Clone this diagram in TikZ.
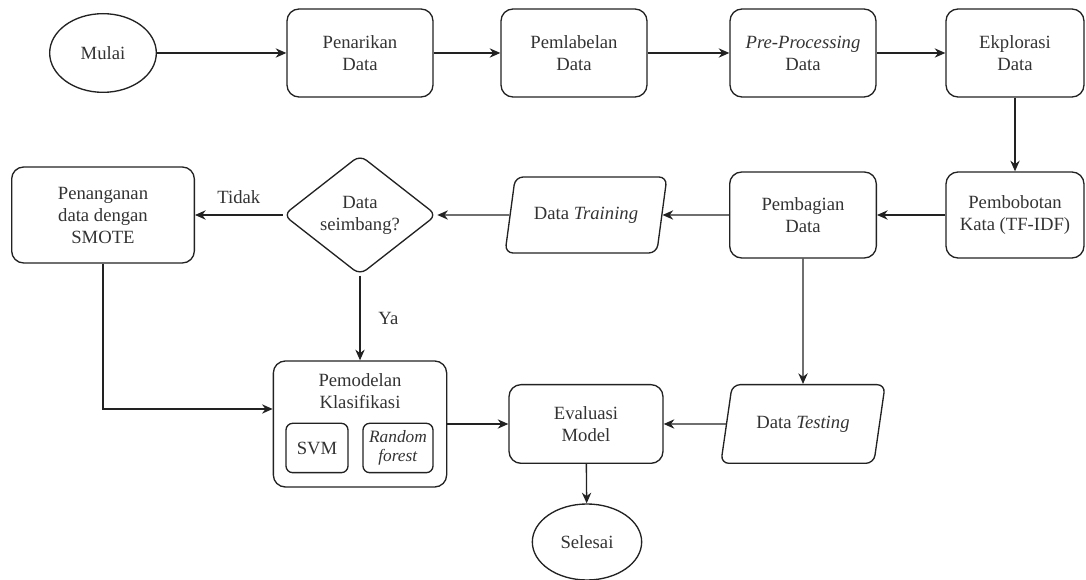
\documentclass[tikz,border=0pt]{standalone}
\usepackage{fontspec}
\setmainfont{Liberation Serif}
\usetikzlibrary{arrows.meta, positioning, shapes.geometric}
\definecolor{garis}{HTML}{222222}
\definecolor{tinta}{HTML}{333333}
\tikzset{
  teks/.style = {align=center, text=tinta,
    font=\fontsize{14}{16.5}\selectfont},
  basis/.style = {teks, inner sep=2pt, text centered, draw=garis,
    line width=1pt},% dasar semua kotak
  proses/.style = {basis, rectangle, rounded corners=9pt,
    minimum width=109.5pt, minimum height=66pt},
  terminal/.style = {basis, ellipse, minimum width=80pt,
    minimum height=59pt},% mulai / selesai
  keputusan/.style = {basis, diamond, rounded corners=6pt, inner sep=0pt,
    minimum width=115pt, minimum height=90pt},
  dataio/.style = {basis, trapezium, trapezium left angle=70,
    trapezium right angle=110, trapezium stretches=true,
    rounded corners=6pt, minimum width=122pt, minimum height=57pt},
  panah/.style = {-{Stealth[length=8pt, width=7pt]}, line width=1pt,
    draw=garis}
}
\begin{document}
\begin{tikzpicture}[x=0.75pt, y=-0.75pt]
\useasboundingbox (0,0) rectangle (1086,580);
% baris atas
\node (mulai) [terminal] at (103,53) {Mulai};
\node (tarik) [proses] at (360,53) {Penarikan\\Data};
\node (label) [proses] at (574,53) {Pemlabelan\\Data};
\node (prapro) [proses] at (803,53) {\textit{Pre-Processing}\\Data};
\node (eksplor) [proses, minimum width=103.5pt] at (1015,53) {Ekplorasi\\Data};
% baris tengah
\node (bobot) [proses, minimum width=103.5pt, minimum height=64.5pt] at (1015,215) {Pembobotan\\Kata (TF-IDF)};
\node (bagi) [proses, minimum width=110pt, minimum height=64.5pt] at (803,215) {Pembagian\\Data};
\node (latih) [dataio] at (586,215) {Data \textit{Training}};
\node (seimbang) [keputusan] at (360,215) {Data\\seimbang?};
\node (smote) [proses, minimum width=137pt, minimum height=72pt] at (103,215) {Penanganan\\data dengan\\SMOTE};
% baris bawah
\node (model) [proses, minimum width=130pt, minimum height=94.5pt] at (360,424) {};
\node (judul) [teks] at (360,391) {Pemodelan\\Klasifikasi};
\node (svm) [proses, rounded corners=5pt, minimum width=46.5pt,
  minimum height=37pt] at (317,448) {SVM};
\node (rf) [proses, rounded corners=5pt, minimum width=52.5pt,
  minimum height=37pt, font=\fontsize{13}{14}\selectfont] at (398,448) {\textit{Random}\\\textit{forest}};
\node (evaluasi) [proses, minimum width=115.5pt, minimum height=59pt] at (586,424) {Evaluasi\\Model};
\node (uji) [dataio, minimum width=124pt, minimum height=59pt] at (803,424) {Data \textit{Testing}};
\node (selesai) [terminal, minimum width=82pt, minimum height=57pt] at (587,542) {Selesai};

\draw[panah] (mulai) -- (tarik);
\draw[panah] (tarik) -- (label);
\draw[panah] (label) -- (prapro);
\draw[panah] (prapro) -- (eksplor);
\draw[panah] (eksplor) -- (bobot);
\draw[panah] (bobot) -- (bagi);
\draw[panah] (bagi) -- (latih);
\draw[panah] (latih) -- (seimbang);
\draw[panah] (seimbang) -- node[teks, above=5pt] (tidak) {Tidak} (smote);
\draw[panah] (seimbang) -- node[teks, right=10pt] (ya) {Ya} (model);
\draw[panah] (smote.south) |- ([yshift=11.25pt]model.west);
\draw[panah] (model) -- (evaluasi);
\draw[panah] (bagi) -- (uji);
\draw[panah] (uji) -- (evaluasi);
\draw[panah] (evaluasi) -- (selesai);
\end{tikzpicture}
\end{document}
